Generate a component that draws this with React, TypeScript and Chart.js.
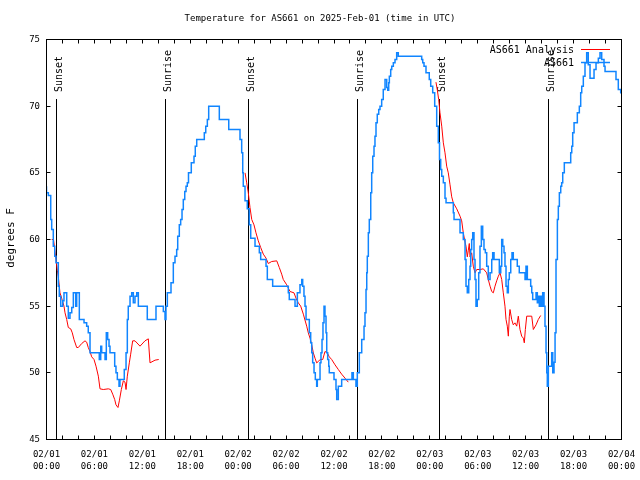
import React, { useEffect, useRef } from 'react';
import { Chart, registerables } from 'chart.js';

Chart.register(...registerables);

const MONO = '"DejaVu Sans Mono", "Liberation Mono", monospace';

const TITLE = 'Temperature for AS661 on 2025-Feb-01 (time in UTC)';
const Y_TITLE = 'degrees F';
const SERIES_NAMES = ['AS661 Analysis', 'AS661'];
const SERIES_COLORS = ['#ff0000', '#1085ff'];

// x axis: hours since 02/01 00:00 UTC
const tickDates = ['02/01', '02/01', '02/01', '02/01', '02/02', '02/02', '02/02', '02/02', '02/03', '02/03', '02/03', '02/03', '02/04'];
const tickTimes = ['00:00', '06:00', '12:00', '18:00', '00:00', '06:00', '12:00', '18:00', '00:00', '06:00', '12:00', '18:00', '00:00'];

const sunTimes = [1.23, 14.88, 25.27, 38.92, 49.27, 62.84];
const sunLabels = ['Sunset', 'Sunrise', 'Sunset', 'Sunrise', 'Sunset', 'Sunrise'];

// AS661 observations [hour, degF] (step changes)
const observed: [number, number][] = [
  [0, 64], [0.23, 63.5], [0.53, 63.3], [0.65, 61.5], [0.85, 60.75], [1.03, 59.5], [1.19, 58.75], [1.48, 58.25],
  [1.6, 56.5], [1.78, 55.75], [2.03, 55], [2.19, 55.4], [2.53, 56], [2.73, 55], [2.94, 54.1], [3.16, 54.5],
  [3.36, 54.9], [3.66, 56], [3.78, 55], [4.11, 56], [4.7, 54], [5.03, 53.75], [5.23, 53.5], [5.45, 53],
  [6.61, 51.5], [6.79, 51], [6.91, 52], [7.33, 51.5], [7.49, 51], [7.66, 53], [7.83, 52.5], [7.95, 52],
  [8.54, 51.5], [8.7, 50.5], [8.87, 50], [9.08, 49.5], [9.2, 49], [9.74, 49.5], [9.96, 50.25], [10.12, 51.5],
  [10.24, 54], [10.46, 55], [10.67, 55.75], [10.87, 56], [11.08, 55.25], [11.3, 55.75], [11.5, 56], [12.62, 55],
  [13.71, 54], [14.63, 55], [14.84, 54.6], [14.96, 54], [15.13, 55], [15.59, 56], [15.88, 56.75], [16.09, 58.25],
  [16.3, 58.75], [16.43, 59.25], [16.63, 60.25], [16.8, 61.1], [16.97, 61.5], [17.13, 62.25], [17.31, 63], [17.47, 63.6],
  [17.63, 64], [17.78, 64.25], [18.13, 65], [18.47, 65.75], [18.63, 66.25], [18.81, 67], [19.76, 67.5], [19.94, 68],
  [20.14, 68.5], [20.31, 69], [21.64, 70], [22.82, 69], [24.23, 68.25], [24.44, 67.5], [24.57, 66.5], [24.64, 65],
  [24.86, 64], [25.14, 62.9], [25.39, 62.3], [25.57, 61.1], [26.11, 60.1], [26.65, 59.5], [26.82, 59], [27.49, 58.5],
  [27.65, 58], [28.32, 57], [30.28, 56.5], [30.4, 56], [31.12, 55.5], [31.41, 55], [31.74, 56], [31.96, 56.6],
  [32.08, 57], [32.24, 56.5], [32.37, 55.75], [32.5, 55], [32.91, 54], [33.08, 53], [33.21, 52.25], [33.33, 51.5],
  [33.5, 50.75], [33.66, 50], [33.83, 49.5], [33.91, 49], [34.25, 49.5], [34.37, 50.75], [34.5, 51.5], [34.62, 52.5],
  [34.75, 53.75], [34.87, 55], [35.0, 54.25], [35.09, 53], [35.21, 51.5], [35.34, 51], [35.41, 50.5], [36.0, 50],
  [36.25, 49.5], [36.34, 48.75], [36.54, 48], [36.96, 49], [38.25, 49.5], [38.42, 50], [38.75, 49.5], [38.92, 49],
  [39.17, 50], [39.47, 51.5], [39.76, 52.5], [39.88, 53.5], [40.01, 54.5], [40.1, 56.25], [40.17, 57.5], [40.3, 58.75],
  [40.42, 60.5], [40.6, 61.5], [40.72, 63.5], [40.85, 65], [41.01, 66.25], [41.13, 67], [41.26, 67.75], [41.42, 68.75],
  [41.6, 69.4], [41.76, 69.75], [41.97, 70], [42.17, 70.5], [42.39, 71.25], [42.6, 72], [42.73, 71.4], [42.85, 71.2],
  [42.93, 71.75], [43.1, 72.25], [43.23, 72.75], [43.43, 73], [43.64, 73.25], [43.85, 73.5], [44.05, 74], [46.98, 73.75],
  [47.11, 73.5], [47.27, 73.25], [47.52, 73], [47.93, 72.5], [48.11, 72], [48.36, 71.5], [48.61, 71], [48.86, 70],
  [49.06, 68.5], [49.21, 67.25], [49.36, 66], [49.49, 65.25], [49.69, 64.75], [49.9, 64.25], [50.03, 63.1], [50.94, 62.75],
  [51.03, 62], [51.78, 61.5], [52.19, 60.5], [52.41, 60], [52.53, 58.5], [52.69, 56.5], [52.87, 56], [53.03, 57],
  [53.12, 58], [53.24, 59.25], [53.37, 60], [53.53, 60.5], [53.66, 58.5], [53.78, 57], [53.94, 55], [54.12, 55.5],
  [54.28, 57.5], [54.45, 59.5], [54.62, 61], [54.78, 60], [54.95, 59.25], [55.12, 59], [55.32, 58], [55.54, 57],
  [55.75, 57.5], [55.87, 58.5], [56.04, 59], [56.7, 58.5], [56.88, 57.5], [57.0, 58], [57.13, 60], [57.29, 59.5],
  [57.41, 59], [57.54, 58], [57.7, 56.5], [57.83, 56], [57.95, 57], [58.13, 57.5], [58.29, 58.5], [58.45, 59],
  [58.95, 58.5], [59.2, 58], [59.92, 57.5], [60.04, 57], [60.21, 58], [60.63, 57], [60.76, 56.5], [60.88, 56],
  [61.3, 55.5], [61.46, 56], [61.58, 55.25], [61.71, 55.75], [61.88, 55], [62.01, 55.75], [62.13, 55], [62.3, 56],
  [62.42, 55], [62.55, 53.5], [62.64, 51.5], [62.71, 50], [62.84, 49], [63.26, 50.5], [63.39, 51.5], [63.55, 50],
  [63.68, 50.8], [63.8, 53], [63.97, 58.5], [64.09, 61.5], [64.22, 62.5], [64.39, 63.5], [64.51, 64], [64.64, 64.25],
  [64.84, 65], [65.64, 65.75], [65.77, 66.5], [65.89, 67], [66.06, 68], [66.47, 68.75], [66.72, 69.5], [66.89, 70],
  [67.02, 71], [67.22, 71.5], [67.43, 72.25], [67.64, 73.25], [67.84, 74], [68.06, 73.1], [68.56, 72.1], [68.81, 72.75],
  [69.1, 73.25], [69.31, 73.6], [69.52, 74], [69.81, 73.5], [69.94, 73], [71.31, 72.6], [71.6, 72], [71.9, 71.25],
  [72, 71],
];

// AS661 Analysis [hour, degF], three evening/night segments
const analysisNight1: [number, number][] = [
  [0.65, 60], [0.88, 60], [1.19, 58.5], [1.35, 57.7], [1.48, 57.2], [1.69, 56], [1.9, 55.6], [2.19, 55],
  [2.32, 54.5], [2.53, 54], [2.73, 53.4], [3.03, 53.3], [3.23, 53], [3.44, 52.5], [3.78, 51.9], [3.98, 51.9],
  [4.41, 52.2], [4.82, 52.4], [5.03, 52.3], [5.23, 51.9], [5.45, 51.6], [5.66, 51.2], [5.95, 51], [6.2, 50.5],
  [6.49, 49.75], [6.7, 48.8], [7.11, 48.75], [7.74, 48.8], [8.04, 48.75], [8.29, 48.4], [8.54, 48], [8.7, 47.6],
  [8.95, 47.4], [9.12, 47.9], [9.37, 48.75], [9.62, 49.4], [9.83, 49.3], [9.96, 48.75], [10.12, 49.75], [10.37, 50.75],
  [10.54, 51.4], [10.79, 52.4], [11.08, 52.4], [11.71, 52], [12.33, 52.4], [12.75, 52.55], [12.96, 50.75], [13.59, 50.95],
  [14.05, 51],
];
const analysisNight2: [number, number][] = [
  [24.86, 65], [25.07, 64.25], [25.27, 63.5], [25.48, 62.4], [25.7, 61.5], [25.98, 61.1], [26.23, 60.5], [26.52, 59.9],
  [26.82, 59.4], [27.15, 58.9], [27.49, 58.6], [27.77, 58.2], [28.2, 58.35], [28.83, 58.4], [29.15, 57.9], [29.45, 57.4],
  [29.65, 57], [30.08, 56.6], [30.49, 56.1], [30.99, 56], [31.24, 55.6], [31.53, 55.25], [31.83, 55], [32.16, 54.4],
  [32.58, 53.5], [32.78, 53], [33.0, 52.6], [33.21, 52.1], [33.41, 51.5], [33.62, 51.1], [33.83, 50.75], [34.04, 50.85],
  [34.25, 51], [34.59, 51], [34.87, 51.6], [35.16, 51.5], [35.41, 51.2], [35.71, 51], [36.13, 50.6], [36.54, 50.25],
  [36.96, 49.9], [37.38, 49.6], [37.79, 49.3],
];
const analysisNight3: [number, number][] = [
  [48.77, 71.8], [48.94, 71.2], [49.11, 70.5], [49.27, 69.5], [49.49, 68.5], [49.69, 67.25], [49.9, 66.5], [50.11, 65.5],
  [50.31, 65], [50.53, 64.1], [50.74, 63.2], [50.94, 62.75], [51.37, 62.3], [51.78, 61.75], [51.99, 61.4], [52.19, 60.5],
  [52.41, 59.8], [52.53, 59.5], [52.69, 58.7], [52.82, 59.2], [52.94, 59.7], [53.03, 58.7], [53.24, 59], [53.44, 58],
  [53.66, 57.5], [53.87, 57.75], [54.28, 57.75], [54.7, 57.8], [55.12, 57.5], [55.32, 57], [55.54, 56.5], [55.75, 56.1],
  [55.95, 56], [56.16, 56.5], [56.37, 56.9], [56.58, 57.25], [56.79, 57.5], [57.0, 57], [57.2, 56], [57.41, 55],
  [57.54, 54], [57.7, 53.5], [57.83, 52.75], [57.95, 54.2], [58.04, 54.75], [58.25, 54], [58.45, 53.6], [58.66, 53.75],
  [58.88, 53.5], [59.08, 54.25], [59.29, 53.25], [59.5, 52.75], [59.71, 52.6], [59.83, 52.25], [59.96, 53.25], [60.13, 54.25],
  [60.76, 54.25], [60.96, 53.25], [61.3, 53.6], [61.58, 54], [61.88, 54.3],
];

const half = (v: number) => Math.round(v - 0.5) + 0.5;

const decor = {
  id: 'decor',
  beforeDatasetsDraw(chart: any) {
    const { ctx, chartArea: a, scales } = chart;
    const xs = scales.x;
    ctx.save();
    ctx.strokeStyle = '#000';
    ctx.fillStyle = '#000';
    ctx.lineWidth = 1;
    ctx.font = `10px ${MONO}`;
    sunTimes.forEach((t, i) => {
      const px = half(xs.getPixelForValue(t));
      ctx.beginPath();
      ctx.moveTo(px, 99);
      ctx.lineTo(px, a.bottom);
      ctx.stroke();
      ctx.save();
      ctx.translate(px + 5, 92);
      ctx.rotate(-Math.PI / 2);
      ctx.textAlign = 'left';
      ctx.textBaseline = 'alphabetic';
      ctx.fillText(sunLabels[i], 0, 0);
      ctx.restore();
    });
    ctx.restore();
  },
  afterDatasetsDraw(chart: any) {
    const { ctx, chartArea: a, scales } = chart;
    const xs = scales.x;
    const ys = scales.y;
    ctx.save();
    ctx.strokeStyle = '#000';
    ctx.lineWidth = 1;
    ctx.beginPath();
    for (let h = 0; h <= 72; h += 2) {
      const px = half(xs.getPixelForValue(h));
      ctx.moveTo(px, a.bottom);
      ctx.lineTo(px, a.bottom - 4);
      ctx.moveTo(px, a.top);
      ctx.lineTo(px, a.top + 4);
    }
    for (let v = 45; v <= 75; v += 5) {
      const py = half(ys.getPixelForValue(v));
      ctx.moveTo(a.left, py);
      ctx.lineTo(a.left + 4, py);
      ctx.moveTo(a.right, py);
      ctx.lineTo(a.right - 4, py);
    }
    ctx.stroke();
    ctx.strokeRect(a.left, a.top, a.right - a.left, a.bottom - a.top);
    ctx.restore();
  },
  afterDraw(chart: any) {
    const { ctx } = chart;
    ctx.save();
    ctx.fillStyle = '#000';
    // title
    ctx.font = `9px ${MONO}`;
    ctx.textAlign = 'center';
    ctx.textBaseline = 'middle';
    ctx.fillText(TITLE, 320, 19);
    // y title
    ctx.save();
    ctx.font = `11px ${MONO}`;
    ctx.translate(11, 238);
    ctx.rotate(-Math.PI / 2);
    ctx.fillText(Y_TITLE, 0, 0);
    ctx.restore();
    // legend
    ctx.font = `10px ${MONO}`;
    ctx.textAlign = 'right';
    SERIES_NAMES.forEach((name, i) => {
      const yy = 50 + i * 13;
      ctx.fillStyle = '#000';
      ctx.fillText(name, 574, yy);
      ctx.strokeStyle = SERIES_COLORS[i];
      ctx.lineWidth = i === 0 ? 1 : 1.5;
      ctx.beginPath();
      ctx.moveTo(581, yy - 0.5);
      ctx.lineTo(610, yy - 0.5);
      ctx.stroke();
    });
    ctx.restore();
  },
};

export default function App() {
  const ref = useRef<HTMLCanvasElement>(null);
  useEffect(() => {
    if (!ref.current) return;
    const toPts = (arr: [number, number][]) => arr.map(([x, y]) => ({ x, y }));
    const analysisData = [
      ...toPts(analysisNight1),
      { x: 19, y: null },
      ...toPts(analysisNight2),
      { x: 43, y: null },
      ...toPts(analysisNight3),
    ];
    const chart = new Chart(ref.current, {
      type: 'line',
      data: {
        datasets: [
          {
            label: SERIES_NAMES[1],
            data: toPts(observed),
            borderColor: SERIES_COLORS[1],
            backgroundColor: SERIES_COLORS[1],
            borderWidth: 1.5,
            pointRadius: 0,
            stepped: 'after',
            fill: false,
            order: 0,
          },
          {
            label: SERIES_NAMES[0],
            data: analysisData as any,
            borderColor: SERIES_COLORS[0],
            backgroundColor: SERIES_COLORS[0],
            borderWidth: 1,
            pointRadius: 0,
            fill: false,
            spanGaps: false,
            order: 1,
          },
        ],
      },
      options: {
        responsive: false,
        devicePixelRatio: 1,
        animation: false,
        layout: { padding: { top: 39.5, right: 18.5, bottom: 0, left: 0 } },
        plugins: {
          legend: { display: false },
          title: { display: false },
          tooltip: { enabled: false },
        },
        scales: {
          x: {
            type: 'linear',
            min: 0,
            max: 72,
            afterFit: (s: any) => { s.height = 40.5; s.paddingLeft = 0; s.paddingRight = 0; },
            grid: { display: false, drawTicks: false },
            border: { display: false },
            ticks: {
              stepSize: 6,
              autoSkip: false,
              maxRotation: 0,
              minRotation: 0,
              padding: 9,
              color: '#000',
              font: { family: MONO, size: 9, lineHeight: 1.35 },
              callback: (v: any) => {
                const i = Math.round(Number(v) / 6);
                return [tickDates[i], tickTimes[i]];
              },
            },
          },
          y: {
            min: 45,
            max: 75,
            afterFit: (s: any) => { s.width = 46.5; s.paddingTop = 0; s.paddingBottom = 0; },
            grid: { display: false, drawTicks: false },
            border: { display: false },
            ticks: {
              stepSize: 5,
              padding: 6.5,
              color: '#000',
              font: { family: MONO, size: 9 },
            },
          },
        },
      },
      plugins: [decor],
    } as any);
    return () => chart.destroy();
  }, []);
  return (
    <div style={{ position: 'absolute', left: 0, top: 0, width: 640, height: 480, background: '#fff' }}>
      <canvas ref={ref} width={640} height={480} style={{ display: 'block', width: 640, height: 480 }} />
    </div>
  );
}
